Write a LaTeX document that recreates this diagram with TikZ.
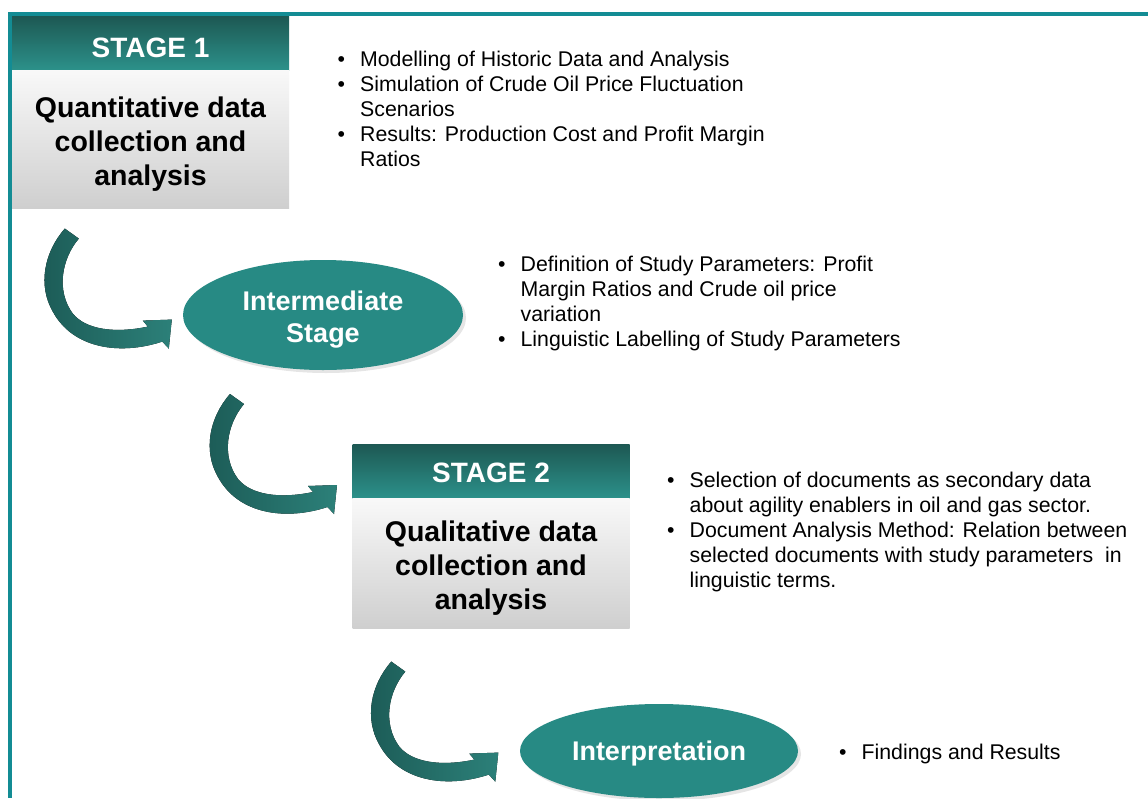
\documentclass[tikz,border=0pt]{standalone}
\usepackage{fontspec}
\setmainfont{Liberation Sans}
\usetikzlibrary{shapes.geometric,shadows,calc}
\definecolor{bordercol}{HTML}{138C94}
\definecolor{hdrtop}{HTML}{1D5853}
\definecolor{hdrbot}{HTML}{2C918A}
\definecolor{ellcol}{HTML}{278A84}
\definecolor{arrdark}{HTML}{1C5B56}
\definecolor{arrlight}{HTML}{2C8079}
\begin{document}
\begin{tikzpicture}[x=1pt,y=-1pt,
  hdr/.style={rectangle, inner sep=0pt, minimum width=277pt, minimum height=54pt,
    top color=hdrtop, bottom color=hdrbot, text=white, text depth=0pt,
    font=\bfseries\fontsize{28}{33}\selectfont},
  bodybox/.style={rectangle, inner sep=0pt, minimum width=277pt,
    top color=gray!5, bottom color=gray!38},
  bodytext/.style={inner sep=0pt, align=center, font=\bfseries\fontsize{28.5}{34}\selectfont},
  stageell/.style={ellipse, inner sep=0pt, fill=ellcol, text=white, align=center,
    text depth=0pt, font=\bfseries\fontsize{27}{32}\selectfont,
    drop shadow={opacity=0.2, shadow xshift=3pt, shadow yshift=-3pt}},
  bullets/.style={inner sep=0pt, anchor=base west, font=\fontsize{21.3}{25}\selectfont},
  flowarrow/.pic={
    \fill[left color=arrdark, right color=arrlight]
      (-35,-52) -- (-21,-42) .. controls (-38,-22) and (-44,10) .. (-27,33)
      .. controls (-14,49) and (15,53) .. (48,46) -- (43,40) -- (72,39) -- (69,68) -- (62.5,61)
      .. controls (20,75) and (-27,68) .. (-47,31)
      .. controls (-62,5) and (-56,-28) .. (-35,-52) -- cycle;
  }
]
\fill[white] (0,0) rectangle (1148,798);
\useasboundingbox (0,0) rectangle (1148,798);
\fill[bordercol] (8,12) rectangle (1148,16);
\fill[bordercol] (8,12) rectangle (12,798);

% Stage 1
\node[hdr, text height=29pt] (s1h) at (150.5,43) {STAGE 1};
\node[bodybox, minimum height=138pt, anchor=north] (s1b) at (s1h.south) {};
\node[bodytext] (s1t) at ($(s1b.center)+(0,5)$) {Quantitative data\\collection and\\analysis};

% Intermediate
\node[stageell, minimum width=280pt, minimum height=110pt] (ie) at (323,315) {};
\node[inner sep=0pt, text=white, align=center, text depth=0pt,
  font=\bfseries\fontsize{27}{32}\selectfont] (iet) at ($(ie.center)+(0,2)$) {Intermediate\\Stage};

% Stage 2
\node[hdr, text height=23pt] (s2h) at (491,471) {STAGE 2};
\node[bodybox, minimum height=130pt, anchor=north] (s2b) at (s2h.south) {};
\node[bodytext] (s2t) at ($(s2b.center)+(0,5)$) {Qualitative data\\collection and\\analysis};

% Interpretation
\node[stageell, minimum width=278pt, minimum height=94pt] (ip) at (659,751) {Interpretation};

% Bullets
\node[bullets] (b1) at (337.5,66) {\begin{tabular}[t]{@{}l@{\hspace{15pt}}l@{}}
\textbullet & Modelling of Historic Data and Analysis\\
\textbullet & Simulation of Crude Oil Price Fluctuation\\
 & Scenarios\\
\textbullet & Results: Production Cost and Profit Margin\\
 & Ratios
\end{tabular}};
\node[bullets] (b2) at (498,271) {\begin{tabular}[t]{@{}l@{\hspace{15pt}}l@{}}
\textbullet & Definition of Study Parameters: Profit\\
 & Margin Ratios and Crude oil price\\
 & variation\\
\textbullet & Linguistic Labelling of Study Parameters
\end{tabular}};
\node[bullets] (b3) at (667,487) {\begin{tabular}[t]{@{}l@{\hspace{15pt}}l@{}}
\textbullet & Selection of documents as secondary data\\
 & about agility enablers in oil and gas sector.\\
\textbullet & Document Analysis Method: Relation between\\
 & selected documents with study parameters\ \ in\\
 & linguistic terms.
\end{tabular}};
\node[bullets] (b4) at (839,759) {\begin{tabular}[t]{@{}l@{\hspace{15pt}}l@{}}
\textbullet & Findings and Results
\end{tabular}};

% Curved arrows
\pic at ($(s1b.south west)+(88,72)$) {flowarrow};
\pic at ($(ie.center)+(-58,131)$) {flowarrow};
\pic at ($(s2b.south west)+(74,85)$) {flowarrow};
\end{tikzpicture}
\end{document}
